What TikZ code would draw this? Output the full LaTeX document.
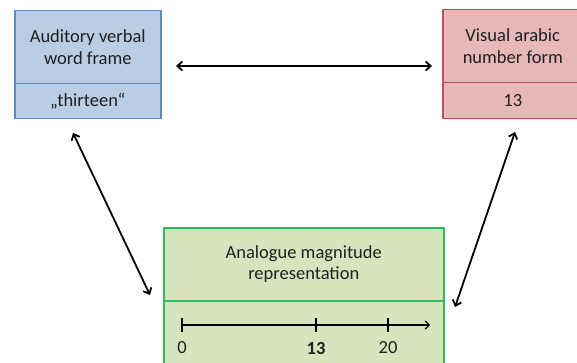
\documentclass[tikz,border=0pt]{standalone}
\usepackage{fontspec}
\setmainfont{Carlito}
\usetikzlibrary{arrows.meta}
\definecolor{bfill}{HTML}{B9CDE5}
\definecolor{bdraw}{HTML}{5B8BD0}
\definecolor{rfill}{HTML}{E6B9B8}
\definecolor{rdraw}{HTML}{C0504D}
\definecolor{gfill}{HTML}{D7E4BD}
\definecolor{gdraw}{HTML}{2DBE5C}
\tikzset{
  box/.style={rectangle, line width=1.5pt, anchor=north west, align=center, inner sep=0pt,
    font=\fontsize{18.5}{21.5}\selectfont, text=black!88},
  tip/.style={Straight Barb[length=5pt,width=9pt,line width=1.6pt]},
  link/.style={line width=1.8pt, {Straight Barb[length=5pt,width=9pt]}-{Straight Barb[length=5pt,width=9pt]}},
  axis/.style={line width=1.2pt},
  lbl/.style={font=\fontsize{18.5}{21.5}\selectfont, text=black!88, inner sep=0pt}
}
\begin{document}
\begin{tikzpicture}[x=1pt,y=-1pt]
\useasboundingbox (0,0) rectangle (577,363);
\clip (0,0) rectangle (577,363);
% blue
\node[box, fill=bfill, draw=bdraw, minimum width=146pt, minimum height=73pt] (audT) at (14,10) {Auditory verbal\\word frame};
\node[box, fill=bfill, draw=bdraw, minimum width=146pt, minimum height=35pt] (audB) at (14,83) {„thirteen“};
% red
\node[box, fill=rfill, draw=rdraw, minimum width=140pt, minimum height=73pt] (visT) at (442,9) {Visual arabic\\number form};
\node[box, fill=rfill, draw=rdraw, minimum width=140pt, minimum height=36pt] (visB) at (442,82) {13};
% green
\node[box, fill=gfill, draw=gdraw, minimum width=280pt, minimum height=73pt] (anaT) at (163,227) {Analogue magnitude\\representation};
\node[box, fill=gfill, draw=gdraw, minimum width=280pt, minimum height=80pt] (anaB) at (163,300) {};
% axis
\coordinate (ax0) at (182,325);
\coordinate (ax13) at (316,325);
\coordinate (ax20) at (388,325);
\coordinate (axE) at (430,325);
\draw[axis, -{Straight Barb[length=4pt,width=8pt]}] (ax0) -- (axE);
\foreach \c in {ax0,ax13,ax20} \draw[axis] ([yshift=7pt]\c) -- ([yshift=-7pt]\c);
\node[lbl] (l0) at (182,348) {0};
\node[lbl] (l13) at (316,348) {\textbf{13}};
\node[lbl] (l20) at (388,348) {20};
% links
\coordinate (h1) at (176,66);
\coordinate (h2) at (432,66);
\coordinate (a1) at (73,133);
\coordinate (a2) at (150,295);
\coordinate (b1) at (515,132);
\coordinate (b2) at (455,307);
\draw[link] (h1) -- (h2);
\draw[link] (a1) -- (a2);
\draw[link] (b1) -- (b2);
\end{tikzpicture}
\end{document}
